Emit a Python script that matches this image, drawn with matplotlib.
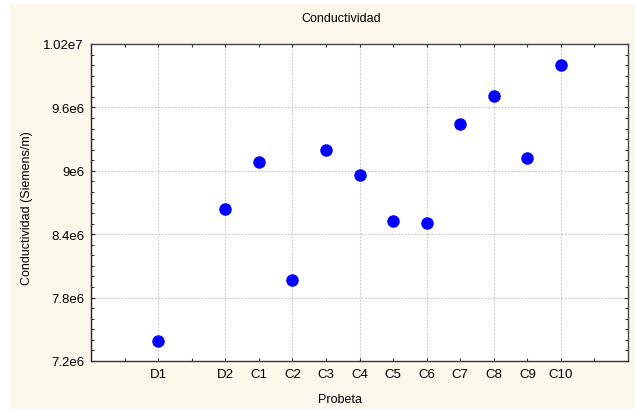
import numpy as np
import matplotlib
matplotlib.use("Agg")
import matplotlib.pyplot as plt
from matplotlib.patches import Rectangle
from matplotlib.ticker import MultipleLocator

# probeta labels and their slot on the x axis (slot 3 is left empty)
probetas = ["D1", "D2", "C1", "C2", "C3", "C4", "C5", "C6", "C7", "C8", "C9", "C10"]
slots = [2, 4, 5, 6, 7, 8, 9, 10, 11, 12, 13, 14]
conductividad = [7.389e6, 8.636e6, 9.080e6, 7.967e6, 9.194e6, 8.960e6,
                 8.525e6, 8.506e6, 9.446e6, 9.711e6, 9.118e6, 9.998e6]

y_ticks = [7.2e6, 7.8e6, 8.4e6, 9.0e6, 9.6e6, 1.02e7]
y_tick_labels = ["7.2e6", "7.8e6", "8.4e6", "9e6", "9.6e6", "1.02e7"]

plt.rcParams["font.family"] = ["Liberation Sans", "DejaVu Sans"]
W, H = 635, 410
fig = plt.figure(figsize=(W / 100, H / 100), dpi=100, facecolor="white")
fig.patches.append(Rectangle((10 / W, 0), 1 - 10 / W, 1 - 5 / H,
                             transform=fig.transFigure, facecolor="#fdf8ec",
                             edgecolor="none", zorder=-10))

ax = fig.add_axes([91 / W, 1 - 362 / H, 537 / W, 317 / H])
ax.set_facecolor("white")

# dotted grid: every major y tick, every other x slot
grid_kw = dict(color="#c4c4c4", linestyle=(0, (1.5, 1.5)), linewidth=0.8, zorder=0)
for yv in y_ticks[1:-1]:
    ax.axhline(yv, **grid_kw)
ax.vlines(np.arange(2, 16, 2), y_ticks[0], y_ticks[-1], **grid_kw)

ax.plot(slots, conductividad, "o", color="#0000ff", markersize=8, zorder=3)

ax.set_xlim(0, 16)
ax.set_ylim(y_ticks[0], y_ticks[-1])

labels = dict(zip(slots, probetas))
xt = list(range(1, 16))
ax.set_xticks(xt)
ax.set_xticklabels([labels.get(x, "") for x in xt])
ax.set_yticks(y_ticks)
ax.set_yticklabels(y_tick_labels)
ax.yaxis.set_minor_locator(MultipleLocator(1e5))

ax.tick_params(which="both", direction="in", top=True, right=True,
               labelsize=9.5, color="#333333", width=0.8)
ax.tick_params(which="major", length=3, pad=5)
ax.tick_params(which="minor", length=2)
ax.tick_params(axis="x", which="major", length=2.5)

for side, sp in ax.spines.items():
    sp.set_color("#444444")
    sp.set_linewidth(1.0)
ax.spines["left"].set_color("#222222")
ax.spines["bottom"].set_color("#333333")

fig.text(341 / W, 1 - 19 / H, "Conductividad", ha="center", va="center", fontsize=9)
fig.text(340 / W, 1 - 400 / H, "Probeta", ha="center", va="center", fontsize=9)
fig.text(27 / W, 1 - 208 / H, "Conductividad (Siemens/m)", ha="center", va="center",
         rotation=90, fontsize=9)

fig.savefig("out.png", dpi=100, facecolor=fig.get_facecolor())
